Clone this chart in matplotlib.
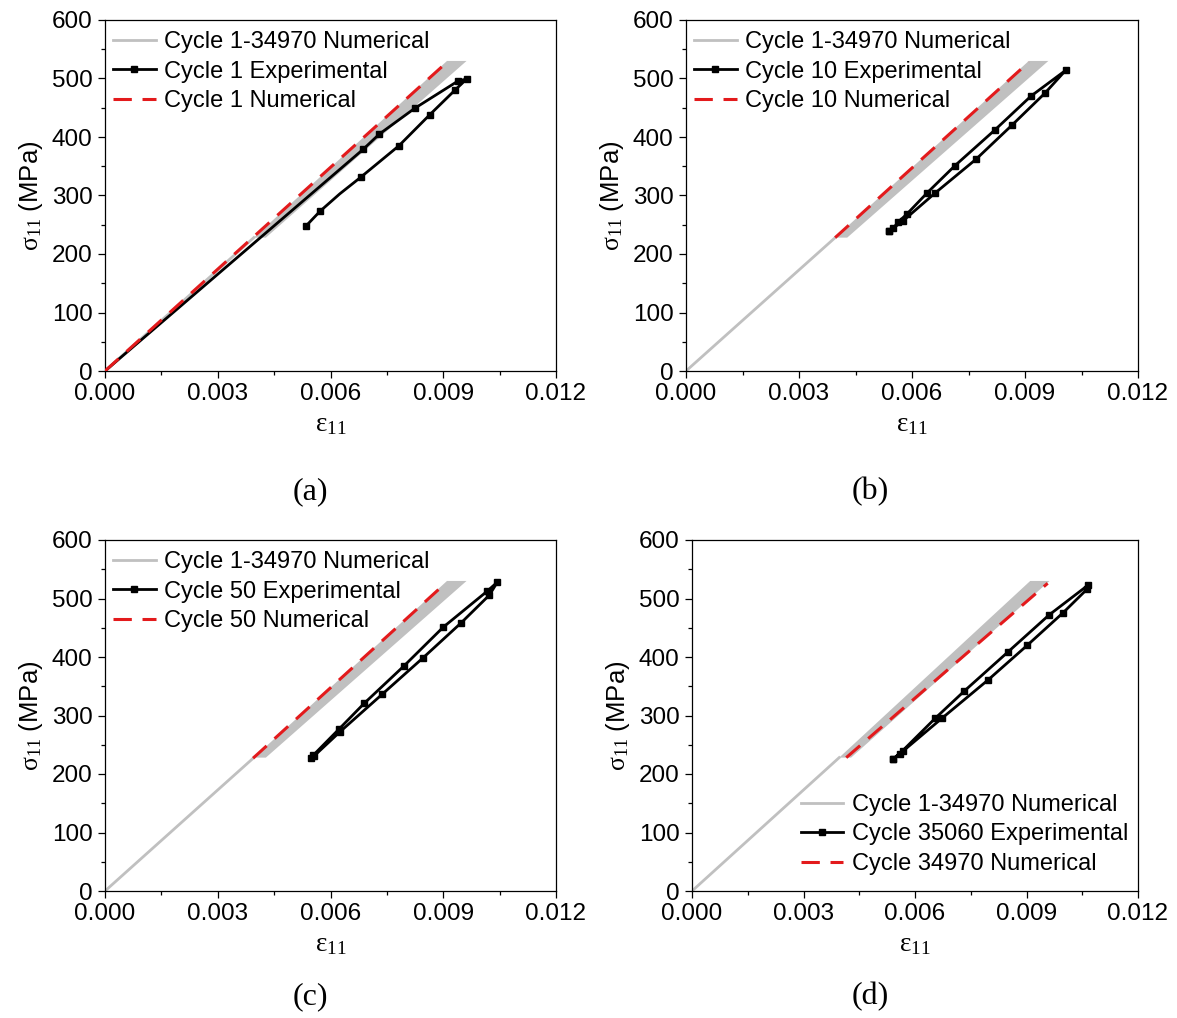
import matplotlib
matplotlib.use("Agg")
import matplotlib.pyplot as plt
from matplotlib.ticker import MultipleLocator, FormatStrFormatter
from matplotlib.lines import Line2D

plt.rcParams['font.family'] = ['Liberation Sans', 'DejaVu Sans']
plt.rcParams['mathtext.fontset'] = 'custom'
plt.rcParams['mathtext.rm'] = 'Liberation Serif'
plt.rcParams['mathtext.it'] = 'Liberation Serif:italic'

# ---------------- data ----------------
# Cycle 1-34970 numerical (grey): initial loading line and band of cycles
grey_line_strain = [0.0, 0.00396]
grey_line_stress = [0, 228]
band_left_strain = [0.00396, 0.00910]
band_right_strain = [0.00428, 0.00962]
band_stress = [228, 530]

# Red dashed numerical cycles
num_a_strain = [0.0, 0.00910]
num_a_stress = [0, 528]
num_b_strain = [0.00396, 0.00910]
num_b_stress = [228, 528]
num_c_strain = [0.00394, 0.00904]
num_c_stress = [227, 525]
num_d_strain = [0.00415, 0.00957]
num_d_stress = [228, 526]

# Experimental loops (black)
exp_a_strain = [0.0, 0.0035, 0.00687, 0.00730, 0.00824, 0.00940, 0.00962,
                0.00931, 0.00864, 0.00782, 0.00680, 0.00625, 0.00572, 0.00535]
exp_a_stress = [0, 193, 379, 405, 449, 496, 499,
                480, 438, 385, 331, 303, 273, 248]
exp_a_marks = [2, 3, 4, 5, 6, 7, 8, 9, 10, 12, 13]

exp_b_strain = [0.00539, 0.00550, 0.00564, 0.00586, 0.00641, 0.00714, 0.00820, 0.00916, 0.01008,
                0.00953, 0.00865, 0.00770, 0.00661, 0.00575, 0.00539]
exp_b_stress = [239, 244, 255, 268, 305, 351, 412, 470, 514,
                475, 420, 362, 304, 256, 239]

exp_c_strain = [0.00547, 0.00554, 0.00623, 0.00690, 0.00796, 0.00900, 0.01016, 0.01044,
                0.01023, 0.00947, 0.00847, 0.00737, 0.00625, 0.00555]
exp_c_stress = [228, 232, 277, 321, 385, 451, 512, 528,
                506, 458, 399, 336, 272, 230]

exp_d_strain = [0.00540, 0.00567, 0.00654, 0.00733, 0.00849, 0.00961, 0.01066,
                0.01063, 0.00999, 0.00902, 0.00797, 0.00672, 0.00560, 0.00540]
exp_d_stress = [225, 240, 295, 342, 408, 472, 523,
                516, 476, 420, 361, 295, 235, 225]

x_ticks = [0.000, 0.003, 0.006, 0.009, 0.012]
y_ticks = [0, 100, 200, 300, 400, 500, 600]

panels = [
    dict(rect=[105, 20, 556, 371], exp=(exp_a_strain, exp_a_stress), marks=exp_a_marks,
         num=(num_a_strain, num_a_stress), tag="(a)", tagpos=(310, 492),
         labels=["Cycle 1-34970 Numerical", "Cycle 1 Experimental", "Cycle 1 Numerical"], leg="ul"),
    dict(rect=[686, 20, 1138, 371], exp=(exp_b_strain, exp_b_stress), marks=None,
         num=(num_b_strain, num_b_stress), tag="(b)", tagpos=(870, 492),
         labels=["Cycle 1-34970 Numerical", "Cycle 10 Experimental", "Cycle 10 Numerical"], leg="ul"),
    dict(rect=[105, 540, 556, 891], exp=(exp_c_strain, exp_c_stress), marks=None,
         num=(num_c_strain, num_c_stress), tag="(c)", tagpos=(310, 997),
         labels=["Cycle 1-34970 Numerical", "Cycle 50 Experimental", "Cycle 50 Numerical"], leg="ul"),
    dict(rect=[692, 540, 1138, 891], exp=(exp_d_strain, exp_d_stress), marks=None,
         num=(num_d_strain, num_d_stress), tag="(d)", tagpos=(870, 997),
         labels=["Cycle 1-34970 Numerical", "Cycle 35060 Experimental", "Cycle 34970 Numerical"], leg="lr"),
]

W, H = 1177, 1018
fig = plt.figure(figsize=(W / 100, H / 100), dpi=100)

GREY = '#c0c0c0'
RED = '#e31a1c'
LW_G, LW_K, LW_R, MS = 2.0, 2.0, 2.2, 5.0

for p in panels:
    x0, y0, x1, y1 = p['rect']
    ax = fig.add_axes([x0 / W, 1 - y1 / H, (x1 - x0) / W, (y1 - y0) / H])
    # grey numerical
    ax.plot(grey_line_strain, grey_line_stress, color=GREY, lw=LW_G, zorder=1)
    poly_x = [band_left_strain[0], band_left_strain[1], band_right_strain[1], band_right_strain[0]]
    poly_y = [band_stress[0], band_stress[1], band_stress[1], band_stress[0]]
    ax.fill(poly_x, poly_y, color=GREY, lw=0, zorder=1)
    # experimental
    es, et = p['exp']
    ax.plot(es, et, color='black', lw=LW_K, marker='s', markersize=MS,
            markevery=p['marks'], zorder=2)
    # numerical red dashed
    ns, nt = p['num']
    ax.plot(ns, nt, color=RED, lw=LW_R, dashes=(6, 3.5), zorder=3)

    ax.set_xlim(0, 0.012)
    ax.set_ylim(0, 600)
    ax.set_xticks(x_ticks)
    ax.set_yticks(y_ticks)
    ax.xaxis.set_major_formatter(FormatStrFormatter('%.3f'))
    ax.xaxis.set_minor_locator(MultipleLocator(0.0015))
    ax.yaxis.set_minor_locator(MultipleLocator(50))
    ax.tick_params(which='major', direction='out', length=5, width=0.9, labelsize=17.5, pad=4,
                   top=False, right=False)
    ax.tick_params(which='minor', direction='out', length=3, width=0.9, top=False, right=False)
    for s in ax.spines.values():
        s.set_linewidth(0.9)

    ax.set_ylabel(r"$\mathrm{σ}_{\mathrm{11}}$ (MPa)", fontsize=18.5)
    ax.set_xlabel(r"$\mathrm{ε}_{\mathrm{11}}$", fontsize=19.5)
    wpx = x1 - x0
    hpx = y1 - y0
    ax.yaxis.set_label_coords(-60 / wpx, 0.5)
    ax.xaxis.set_label_coords(0.5, -40 / hpx)

    handles = [Line2D([], [], color=GREY, lw=LW_G),
               Line2D([], [], color='black', lw=LW_K, marker='s', markersize=MS),
               Line2D([], [], color=RED, lw=LW_R, dashes=(6, 3.5))]
    if p['leg'] == 'ul':
        ax.legend(handles, p['labels'], loc='upper left', frameon=False, fontsize=17,
                  bbox_to_anchor=(8 / wpx, 1 - 11 / hpx), borderaxespad=0, borderpad=0,
                  handlelength=1.8, handletextpad=0.35, labelspacing=0.32)
    else:
        ax.legend(handles, p['labels'], loc='lower right', frameon=False, fontsize=17,
                  bbox_to_anchor=(1 - 10 / wpx, 16 / hpx), borderaxespad=0, borderpad=0,
                  handlelength=1.8, handletextpad=0.35, labelspacing=0.32)

    tx, ty = p['tagpos']
    fig.text(tx / W, 1 - ty / H, p['tag'], ha='center', va='center',
             fontsize=23, family='Liberation Serif')

fig.savefig('out.png', dpi=100)
